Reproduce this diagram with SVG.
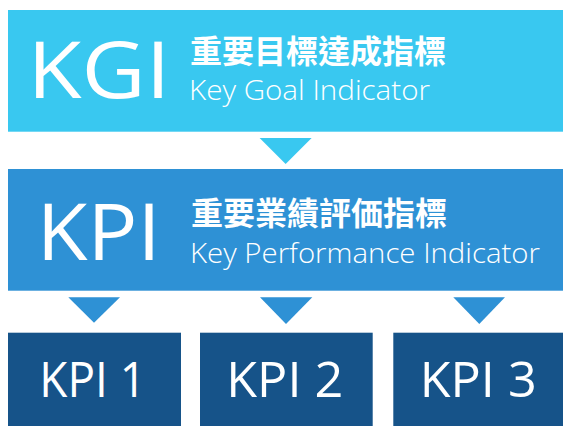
<svg xmlns="http://www.w3.org/2000/svg" width="563" height="426" viewBox="0 0 563 426">
<style>
.light{fill:#39C8F0}
.mid{fill:#2E91D5}
.dark{fill:#165389}
.big{font-family:"Open Sans","Liberation Sans",sans-serif;fill:#fff;font-size:79px}
.cjk{font-family:"Noto Sans CJK TC","Noto Sans CJK JP",sans-serif;fill:#fff;font-size:32px;font-weight:700}
.en{font-family:"Open Sans","Liberation Sans",sans-serif;fill:#fff;font-size:28px;font-weight:300}
.kpi{font-family:"Open Sans","Liberation Sans",sans-serif;fill:#fff;font-size:50px}
</style>
<rect width="563" height="426" fill="#fff"/>
<g id="kgi">
<rect class="light" x="8" y="10" width="555" height="121.7"/>
<text class="big" x="27.5" y="98.3" textLength="143" lengthAdjust="spacingAndGlyphs">KGI</text>
<text class="cjk" x="190" y="63" textLength="256" lengthAdjust="spacingAndGlyphs">重要目標達成指標</text>
<text class="en" x="189" y="100" textLength="241" lengthAdjust="spacingAndGlyphs">Key Goal Indicator</text>
</g>
<g id="kpi">
<rect class="mid" x="8" y="169" width="555" height="121.7"/>
<text class="big" x="36.7" y="260" textLength="124" lengthAdjust="spacingAndGlyphs">KPI</text>
<text class="cjk" x="191" y="225" textLength="256" lengthAdjust="spacingAndGlyphs">重要業績評価指標</text>
<text class="en" x="190" y="262.7" textLength="350" lengthAdjust="spacingAndGlyphs">Key Performance Indicator</text>
</g>
<g id="kpi1">
<rect class="dark" x="8" y="332.7" width="173" height="93.3"/>
<text class="kpi" x="39.3" y="397.3" textLength="106.7" lengthAdjust="spacingAndGlyphs">KPI 1</text>
</g>
<g id="kpi2">
<rect class="dark" x="200" y="332.7" width="172.7" height="93.3"/>
<text class="kpi" x="226.3" y="397.3" textLength="117" lengthAdjust="spacingAndGlyphs">KPI 2</text>
</g>
<g id="kpi3">
<rect class="dark" x="393.3" y="332.7" width="169.7" height="93.3"/>
<text class="kpi" x="419.7" y="397.3" textLength="117" lengthAdjust="spacingAndGlyphs">KPI 3</text>
</g>
<g id="connectors">
<polygon class="light" points="259.6,138 311.6,138 285.6,164"/>
<polygon class="mid" points="68.3,297.3 120,297.3 94,322.7"/>
<polygon class="mid" points="260,297.3 312.3,297.3 286,324"/>
<polygon class="mid" points="453.3,297.3 505,297.3 479.3,324"/>
</g>
</svg>
